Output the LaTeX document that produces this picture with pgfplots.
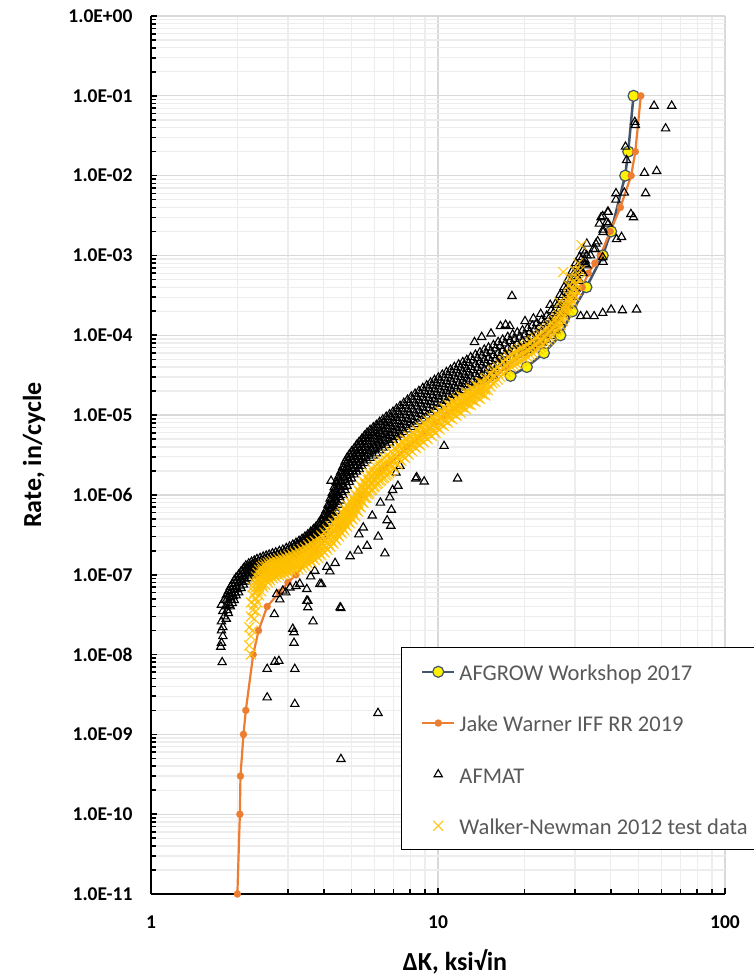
\documentclass[border=0pt]{standalone}
\usepackage{fontspec}
\setmainfont{Carlito}
\usepackage{pgfplots}
\pgfplotsset{compat=1.18}
\definecolor{afgline}{HTML}{44546A}
\definecolor{jake}{HTML}{ED7D31}
\definecolor{wn}{HTML}{FFC000}
\definecolor{legtext}{HTML}{595959}
\definecolor{majgrid}{HTML}{D9D9D9}
\definecolor{mingrid}{HTML}{EDEDED}
\newcommand{\lgd}[1]{\rule[-5pt]{0pt}{24pt}\makebox[310pt][l]{#1}}
\begin{document}
\begin{tikzpicture}
\begin{axis}[
  at={(0pt,0pt)}, anchor=south west,
  width=574pt, height=878pt, scale only axis,
  xmode=log, ymode=log, xmin=1, xmax=100, ymin=1e-11, ymax=1,
  axis x line*=bottom, axis y line*=left,
  axis line style={line width=2.2pt, black},
  xtick={1,10,100}, xticklabels={1,10,100},
  minor xtick={2,3,4,5,6,7,8,9,20,30,40,50,60,70,80,90},
  ytick={1e-11,1e-10,1e-9,1e-8,1e-7,1e-6,1e-5,1e-4,1e-3,1e-2,1e-1,1},
  yticklabels={1.0E-11,1.0E-10,1.0E-09,1.0E-08,1.0E-07,1.0E-06,1.0E-05,1.0E-04,1.0E-03,1.0E-02,1.0E-01,1.0E+00},
  minor ytick={2e-11,3e-11,4e-11,5e-11,6e-11,7e-11,8e-11,9e-11,
    2e-10,3e-10,4e-10,5e-10,6e-10,7e-10,8e-10,9e-10,
    2e-9,3e-9,4e-9,5e-9,6e-9,7e-9,8e-9,9e-9,
    2e-8,3e-8,4e-8,5e-8,6e-8,7e-8,8e-8,9e-8,
    2e-7,3e-7,4e-7,5e-7,6e-7,7e-7,8e-7,9e-7,
    2e-6,3e-6,4e-6,5e-6,6e-6,7e-6,8e-6,9e-6,
    2e-5,3e-5,4e-5,5e-5,6e-5,7e-5,8e-5,9e-5,
    2e-4,3e-4,4e-4,5e-4,6e-4,7e-4,8e-4,9e-4,
    2e-3,3e-3,4e-3,5e-3,6e-3,7e-3,8e-3,9e-3,
    2e-2,3e-2,4e-2,5e-2,6e-2,7e-2,8e-2,9e-2,
    0.2,0.3,0.4,0.5,0.6,0.7,0.8,0.9},
  grid=both,
  major grid style={draw=majgrid, line width=1.3pt},
  minor grid style={draw=mingrid, line width=1.3pt},
  tick align=inside,
  major tick length=6pt, minor tick length=5pt,
  tick style={line width=1.6pt, black},
  tick label style={font=\fontsize{19.5}{23}\selectfont\bfseries},
  yticklabel style={xshift=-15pt},
  xticklabel style={yshift=-18pt},
  xlabel={ΔK, ksi√in},
  ylabel={Rate, in/cycle},
  label style={font=\fontsize{26}{30}\selectfont\bfseries},
  xlabel style={at={(axis description cs:0.5296,-0.077)}, anchor=center},
  ylabel style={at={(axis description cs:-0.2038,0.5)}, anchor=center},
  legend image code/.code={\draw[mark repeat=2,mark phase=2,#1] plot coordinates {(0pt,0pt) (16pt,0pt) (32pt,0pt)};},
  legend cell align=left,
  legend style={at={(axis description cs:0.4355,0.2813)}, anchor=north west,
    draw=black, line width=1pt, fill=white,
    font=\fontsize{22.5}{27}\selectfont, text=legtext,
    inner xsep=19.5pt, inner ysep=14pt, row sep=30.8pt, column sep=4pt,
    nodes={inner sep=0pt}},
]
% AFGROW Workshop 2017
\addplot[color=afgline, line width=2.5pt, mark=*, mark size=5.5pt,
  mark options={fill=yellow, draw=afgline, line width=1.2pt}] coordinates {
(17.9,3.1e-5)(20.4,4.0e-5)(23.4,6.0e-5)(26.7,1.0e-4)
(29.4,2.0e-4)(32.9,4.0e-4)(37.5,1.0e-3)(40.1,2.0e-3)(44.9,1.0e-2)(46.0,2.0e-2)(48.0,1.0e-1)};
\addlegendentry{\lgd{AFGROW Workshop 2017}}
% Jake Warner IFF RR 2019
\addplot[color=jake, line width=2.2pt, mark=*, mark size=3.6pt,
  mark options={fill=jake, draw=jake, line width=0.1pt}] coordinates {
(2.0,1e-11)(2.04,1e-10)(2.05,3e-10)(2.10,1e-9)(2.14,2e-9)(2.27,1e-8)(2.37,2e-8)(2.54,4e-8)
(2.8,6e-8)(3.0,8e-8)(3.2,1e-7)(3.72,2e-7)(4.52,4e-7)(4.93,6e-7)(5.22,8e-7)(5.42,1e-6)(6.34,2e-6)
(7.8,4e-6)(8.95,6e-6)(9.8,8e-6)(10.6,1e-5)(13.9,2e-5)(17.3,4e-5)(20.0,6e-5)(22.3,8e-5)
(23.7,1e-4)(27.7,2e-4)(31.8,4e-4)(33.4,6e-4)(35.2,8e-4)(36.8,1e-3)(39.8,2e-3)(43.2,4e-3)
(47.1,1e-2)(48.7,2e-2)(50.9,1e-1)};
\addlegendentry{\lgd{Jake Warner IFF RR 2019}}
% AFMAT
\addplot[only marks, mark=triangle, mark size=4.8pt, mark options={draw=black, line width=1.1pt}] coordinates {
(1.76,4.2e-8)(1.76,2.6e-8)(1.76,2.0e-8)(1.76,1.4e-8)
(1.78,3.5e-8)(1.78,2.2e-8)(1.78,1.7e-8)
(1.80,4.8e-8)(1.80,3.0e-8)
(1.83,5.5e-8)(1.83,4.0e-8)(1.83,2.8e-8)
(1.86,6.2e-8)(1.86,4.5e-8)(1.86,3.3e-8)
(1.89,7.0e-8)(1.89,5.2e-8)(1.89,4.0e-8)
(1.92,7.6e-8)(1.92,5.8e-8)(1.92,4.4e-8)
(1.95,8.5e-8)(1.95,6.5e-8)(1.95,4.8e-8)
(1.98,9.2e-8)(1.98,7.0e-8)(1.98,5.5e-8)
(2.02,1.0e-7)(2.02,8.0e-8)(2.02,6.0e-8)
(2.06,1.1e-7)(2.06,8.5e-8)(2.06,6.8e-8)
(2.10,1.2e-7)(2.10,9.5e-8)(2.10,7.5e-8)
(2.14,1.3e-7)(2.14,1.05e-7)(2.14,8.2e-8)
(2.19,1.38e-7)(2.19,1.12e-7)(2.19,9.0e-8)
(2.24,1.45e-7)(2.24,1.2e-7)(2.24,9.8e-8)
(2.29,1.5e-7)(2.29,1.25e-7)(2.29,1.03e-7)
(2.34,1.57e-7)(2.34,1.32e-7)(2.34,1.08e-7)
(2.40,1.62e-7)(2.40,1.38e-7)(2.40,1.14e-7)
(2.46,1.68e-7)(2.46,1.42e-7)(2.46,1.2e-7)
(2.52,1.73e-7)(2.52,1.48e-7)(2.52,1.24e-7)
(2.58,1.78e-7)(2.58,1.52e-7)(2.58,1.3e-7)
(2.65,1.85e-7)(2.65,1.57e-7)(2.65,1.35e-7)
(2.72,1.9e-7)(2.72,1.62e-7)(2.72,1.4e-7)
(2.80,1.98e-7)(2.80,1.68e-7)(2.80,1.45e-7)
(2.88,2.05e-7)(2.88,1.75e-7)(2.88,1.52e-7)
(2.96,2.15e-7)(2.96,1.82e-7)(2.96,1.6e-7)
(3.04,2.25e-7)(3.04,1.9e-7)(3.04,1.68e-7)
(3.12,2.38e-7)(3.12,2.0e-7)(3.12,1.78e-7)
(3.20,2.5e-7)(3.20,2.1e-7)(3.20,1.88e-7)
(3.28,2.65e-7)(3.28,2.25e-7)(3.28,2.0e-7)
(3.36,2.8e-7)(3.36,2.4e-7)(3.36,2.1e-7)
(3.44,3.0e-7)(3.44,2.55e-7)(3.44,2.25e-7)
(3.52,3.2e-7)(3.52,2.7e-7)(3.52,2.35e-7)
(3.60,3.45e-7)(3.60,2.9e-7)(3.60,2.5e-7)
(3.68,3.7e-7)(3.68,3.1e-7)(3.68,2.65e-7)
(3.76,4.0e-7)(3.76,3.35e-7)(3.76,2.8e-7)
(3.84,4.4e-7)(3.84,3.6e-7)(3.84,3.0e-7)
(3.92,4.9e-7)(3.92,4.0e-7)(3.92,3.2e-7)
(4.00,5.6e-7)(4.00,4.5e-7)(4.00,3.6e-7)
(4.07,6.4e-7)(4.07,5.1e-7)(4.07,4.0e-7)
(4.14,7.5e-7)(4.14,5.8e-7)(4.14,4.5e-7)
(4.21,9.0e-7)(4.21,6.8e-7)(4.21,5.2e-7)
(4.28,1.05e-6)(4.28,8.0e-7)(4.28,6.0e-7)
(4.35,1.25e-6)(4.35,9.5e-7)(4.35,7.2e-7)(4.35,5.5e-7)
(4.42,1.45e-6)(4.42,1.1e-6)(4.42,8.5e-7)(4.42,6.3e-7)
(4.50,1.7e-6)(4.50,1.3e-6)(4.50,1.0e-6)(4.50,7.5e-7)
(4.58,1.95e-6)(4.58,1.5e-6)(4.58,1.15e-6)(4.58,8.5e-7)
(4.66,2.25e-6)(4.66,1.75e-6)(4.66,1.35e-6)(4.66,1.0e-6)
(4.74,2.6e-6)(4.74,2.0e-6)(4.74,1.55e-6)(4.74,1.15e-6)
(4.82,2.9e-6)(4.82,2.25e-6)(4.82,1.75e-6)(4.82,1.3e-6)
(4.91,3.2e-6)(4.91,2.5e-6)(4.91,1.95e-6)(4.91,1.45e-6)
(5.00,3.5e-6)(5.00,2.75e-6)(5.00,2.15e-6)(5.00,1.6e-6)
(5.10,3.8e-6)(5.10,3.0e-6)(5.10,2.35e-6)(5.10,1.8e-6)
(5.20,4.2e-6)(5.20,3.3e-6)(5.20,2.6e-6)(5.20,1.95e-6)
(5.31,4.6e-6)(5.31,3.6e-6)(5.31,2.8e-6)(5.31,2.1e-6)
(5.42,5.0e-6)(5.42,3.9e-6)(5.42,3.0e-6)(5.42,2.3e-6)
(5.54,5.5e-6)(5.54,4.3e-6)(5.54,3.3e-6)(5.54,2.5e-6)
(5.66,6.0e-6)(5.66,4.7e-6)(5.66,3.6e-6)(5.66,2.7e-6)
(5.80,6.5e-6)(5.80,5.1e-6)(5.80,3.9e-6)(5.80,2.9e-6)
(5.95,7.0e-6)(5.95,5.5e-6)(5.95,4.2e-6)(5.95,3.1e-6)
(6.10,7.5e-6)(6.10,5.9e-6)(6.10,4.5e-6)(6.10,3.3e-6)
(6.26,8.2e-6)(6.26,6.3e-6)(6.26,4.8e-6)(6.26,3.6e-6)
(6.42,8.8e-6)(6.42,6.8e-6)(6.42,5.2e-6)(6.42,3.9e-6)
(6.60,9.5e-6)(6.60,7.3e-6)(6.60,5.6e-6)(6.60,4.2e-6)
(6.78,1.02e-5)(6.78,7.9e-6)(6.78,6.0e-6)(6.78,4.5e-6)
(6.97,1.1e-5)(6.97,8.5e-6)(6.97,6.5e-6)(6.97,4.9e-6)
(7.17,1.2e-5)(7.17,9.2e-6)(7.17,7.0e-6)(7.17,5.3e-6)
(7.38,1.3e-5)(7.38,1.0e-5)(7.38,7.6e-6)(7.38,5.7e-6)
(7.60,1.42e-5)(7.60,1.09e-5)(7.60,8.2e-6)(7.60,6.1e-6)
(7.83,1.55e-5)(7.83,1.18e-5)(7.83,8.9e-6)(7.83,6.6e-6)
(8.07,1.7e-5)(8.07,1.28e-5)(8.07,9.6e-6)(8.07,7.1e-6)
(8.32,1.85e-5)(8.32,1.4e-5)(8.32,1.05e-5)(8.32,7.7e-6)
(8.58,2.0e-5)(8.58,1.52e-5)(8.58,1.14e-5)(8.58,8.3e-6)
(8.85,2.18e-5)(8.85,1.65e-5)(8.85,1.24e-5)(8.85,9.0e-6)
(9.13,2.35e-5)(9.13,1.8e-5)(9.13,1.35e-5)(9.13,9.8e-6)
(9.42,2.55e-5)(9.42,1.95e-5)(9.42,1.46e-5)(9.42,1.07e-5)
(9.72,2.75e-5)(9.72,2.1e-5)(9.72,1.58e-5)(9.72,1.16e-5)
(10.03,2.95e-5)(10.03,2.28e-5)(10.03,1.72e-5)(10.03,1.27e-5)
(10.35,3.2e-5)(10.35,2.45e-5)(10.35,1.86e-5)(10.35,1.38e-5)
(10.7,3.45e-5)(10.7,2.65e-5)(10.7,2.0e-5)(10.7,1.5e-5)
(11.05,3.7e-5)(11.05,2.85e-5)(11.05,2.15e-5)(11.05,1.65e-5)
(11.4,4.0e-5)(11.4,3.05e-5)(11.4,2.3e-5)(11.4,1.78e-5)
(11.8,4.3e-5)(11.8,3.3e-5)(11.8,2.5e-5)(11.8,1.92e-5)
(12.2,4.6e-5)(12.2,3.5e-5)(12.2,2.65e-5)(12.2,2.05e-5)
(12.6,4.9e-5)(12.6,3.75e-5)(12.6,2.85e-5)(12.6,2.2e-5)
(13.0,5.3e-5)(13.0,4.0e-5)(13.0,3.05e-5)(13.0,2.35e-5)
(13.5,5.7e-5)(13.5,4.3e-5)(13.5,3.25e-5)(13.5,2.5e-5)
(14.0,6.1e-5)(14.0,4.6e-5)(14.0,3.5e-5)(14.0,2.65e-5)
(14.5,6.6e-5)(14.5,4.9e-5)(14.5,3.7e-5)(14.5,2.8e-5)
(15.0,7.0e-5)(15.0,5.2e-5)(15.0,3.9e-5)(15.0,2.95e-5)
(15.6,7.5e-5)(15.6,5.6e-5)(15.6,4.2e-5)(15.6,3.1e-5)
(16.2,8.2e-5)(16.2,6.0e-5)(16.2,4.4e-5)
(16.8,8.8e-5)(16.8,6.4e-5)(16.8,4.7e-5)
(17.5,9.5e-5)(17.5,6.9e-5)(17.5,5.0e-5)
(18.2,1.02e-4)(18.2,7.4e-5)(18.2,5.3e-5)
(18.9,1.08e-4)(18.9,7.9e-5)(18.9,5.7e-5)
(19.7,1.15e-4)(19.7,8.4e-5)(19.7,6.1e-5)
(20.5,1.22e-4)(20.5,9.0e-5)(20.5,6.5e-5)
(21.3,1.32e-4)(21.3,9.6e-5)(21.3,7.0e-5)
(22.1,1.42e-4)(22.1,1.03e-4)(22.1,7.5e-5)
(23.0,1.55e-4)(23.0,1.12e-4)(23.0,8.1e-5)
(23.9,1.75e-4)(23.9,1.25e-4)(23.9,8.8e-5)
(24.8,2.05e-4)(24.8,1.42e-4)(24.8,9.8e-5)
(25.7,2.5e-4)(25.7,1.7e-4)(25.7,1.15e-4)
(26.6,3.2e-4)(26.6,2.15e-4)(26.6,1.45e-4)
(27.5,4.0e-4)(27.5,2.7e-4)(27.5,1.85e-4)
(28.4,5.0e-4)(28.4,3.4e-4)(28.4,2.35e-4)
(29.3,6.3e-4)(29.3,4.3e-4)(29.3,3.0e-4)
(30.2,8.0e-4)(30.2,5.5e-4)(30.2,3.8e-4)
(31.1,9.5e-4)(31.1,6.8e-4)(31.1,4.8e-4)
(32.0,1.15e-3)(32.0,8.2e-4)(32.0,6.0e-4)
(33.0,1.4e-3)(33.0,1.0e-3)(33.0,7.5e-4)
(1.845,5.0e-8)(1.845,3.6e-8)(1.875,5.7e-8)(1.875,4.2e-8)(1.905,6.4e-8)(1.905,4.85e-8)
(1.935,7.1e-8)(1.935,5.4e-8)(1.965,7.8e-8)(1.965,5.95e-8)(2.00,8.5e-8)(2.00,6.6e-8)
(2.04,9.4e-8)(2.04,7.3e-8)(2.08,1.02e-7)(2.08,8.1e-8)(2.12,1.12e-7)(2.12,8.9e-8)
(2.165,1.21e-7)(2.165,9.7e-8)(2.215,1.28e-7)(2.215,1.05e-7)(2.265,1.35e-7)(2.265,1.11e-7)
(2.315,1.41e-7)(2.315,1.17e-7)(2.37,1.47e-7)(2.37,1.23e-7)(2.43,1.52e-7)(2.43,1.28e-7)
(2.49,1.58e-7)(2.49,1.33e-7)(2.55,1.63e-7)(2.55,1.38e-7)(2.615,1.68e-7)(2.615,1.43e-7)
(2.685,1.74e-7)(2.685,1.48e-7)(2.76,1.8e-7)(2.76,1.54e-7)(2.84,1.87e-7)(2.84,1.6e-7)
(2.92,1.94e-7)(2.92,1.67e-7)(3.00,2.03e-7)(3.00,1.75e-7)(3.08,2.13e-7)(3.08,1.84e-7)
(3.16,2.25e-7)(3.16,1.94e-7)(3.24,2.37e-7)(3.24,2.06e-7)(3.32,2.52e-7)(3.32,2.19e-7)
(3.40,2.68e-7)(3.40,2.32e-7)(3.48,2.85e-7)(3.48,2.46e-7)(3.56,3.05e-7)(3.56,2.6e-7)
(3.64,3.28e-7)(3.64,2.78e-7)(3.72,3.5e-7)(3.72,2.97e-7)(3.80,3.8e-7)(3.80,3.18e-7)
(3.88,4.2e-7)(3.88,3.45e-7)(3.96,4.75e-7)(3.96,3.8e-7)(4.035,5.4e-7)(4.035,4.3e-7)
(4.105,6.2e-7)(4.105,4.85e-7)(4.175,7.3e-7)(4.175,5.6e-7)(4.245,8.6e-7)(4.245,6.5e-7)
(4.315,1.01e-6)(4.315,7.7e-7)(4.315,6.0e-7)(4.385,1.19e-6)(4.385,9.0e-7)(4.385,6.9e-7)
(4.46,1.39e-6)(4.46,1.06e-6)(4.46,8.1e-7)(4.54,1.61e-6)(4.54,1.24e-6)(4.54,9.4e-7)
(4.62,1.86e-6)(4.62,1.44e-6)(4.62,1.09e-6)(4.70,2.15e-6)(4.70,1.66e-6)(4.70,1.26e-6)
(4.78,2.44e-6)(4.78,1.89e-6)(4.78,1.44e-6)(4.865,2.71e-6)(4.865,2.11e-6)(4.865,1.61e-6)
(4.955,2.99e-6)(4.955,2.34e-6)(4.955,1.79e-6)(5.05,3.26e-6)(5.05,2.56e-6)(5.05,1.98e-6)
(5.15,3.58e-6)(5.15,2.81e-6)(5.15,2.18e-6)(5.255,3.93e-6)(5.255,3.08e-6)(5.255,2.36e-6)
(5.365,4.28e-6)(5.365,3.33e-6)(5.365,2.55e-6)(5.48,4.68e-6)(5.48,3.63e-6)(5.48,2.78e-6)
(5.60,5.13e-6)(5.60,3.98e-6)(5.60,3.03e-6)(5.73,5.58e-6)(5.73,4.33e-6)(5.73,3.28e-6)
(5.875,6.03e-6)(5.875,4.68e-6)(5.875,3.53e-6)(6.025,6.48e-6)(6.025,5.03e-6)(6.025,3.78e-6)
(6.18,6.98e-6)(6.18,5.38e-6)(6.18,4.05e-6)(6.34,7.53e-6)(6.34,5.78e-6)(6.34,4.38e-6)
(6.51,8.1e-6)(6.51,6.23e-6)(6.51,4.73e-6)(6.69,8.73e-6)(6.69,6.7e-6)(6.69,5.08e-6)
(6.875,9.4e-6)(6.875,7.23e-6)(6.875,5.48e-6)(7.07,1.02e-5)(7.07,7.8e-6)(7.07,5.93e-6)
(7.275,1.1e-5)(7.275,8.45e-6)(7.275,6.4e-6)(7.49,1.2e-5)(7.49,9.18e-6)(7.49,6.9e-6)
(7.715,1.31e-5)(7.715,9.95e-6)(7.715,7.45e-6)(7.95,1.43e-5)(7.95,1.08e-5)(7.95,8.05e-6)
(8.195,1.56e-5)(8.195,1.17e-5)(8.195,8.73e-6)(8.45,1.69e-5)(8.45,1.28e-5)(8.45,9.48e-6)
(8.715,1.84e-5)(8.715,1.39e-5)(8.715,1.03e-5)(8.99,1.99e-5)(8.99,1.51e-5)(8.99,1.12e-5)
(9.275,2.16e-5)(9.275,1.64e-5)(9.275,1.22e-5)(9.57,2.34e-5)(9.57,1.77e-5)(9.57,1.32e-5)
(9.875,2.52e-5)(9.875,1.92e-5)(9.875,1.43e-5)(10.19,2.72e-5)(10.19,2.08e-5)(10.19,1.56e-5)
(10.525,2.94e-5)(10.525,2.24e-5)(10.525,1.69e-5)(10.875,3.16e-5)(10.875,2.41e-5)(10.875,1.83e-5)
(11.225,3.4e-5)(11.225,2.59e-5)(11.225,1.97e-5)(11.6,3.66e-5)(11.6,2.79e-5)(11.6,2.13e-5)
(12.0,3.93e-5)(12.0,2.99e-5)(12.0,2.28e-5)(12.4,4.19e-5)(12.4,3.19e-5)(12.4,2.44e-5)
(12.8,4.49e-5)(12.8,3.41e-5)(12.8,2.61e-5)(13.25,4.83e-5)(13.25,3.65e-5)(13.25,2.79e-5)
(13.75,5.18e-5)(13.75,3.91e-5)(13.75,2.98e-5)(14.25,5.55e-5)(14.25,4.18e-5)(14.25,3.16e-5)
(14.75,5.93e-5)(14.75,4.43e-5)(14.75,3.34e-5)(15.3,6.33e-5)(15.3,4.73e-5)(15.3,3.54e-5)
(15.9,6.83e-5)(15.9,5.05e-5)(15.9,3.75e-5)(16.5,7.35e-5)(16.5,5.38e-5)(16.5,3.98e-5)
(17.15,7.9e-5)(17.15,5.75e-5)(17.85,8.5e-5)(17.85,6.2e-5)(18.55,9.0e-5)(18.55,6.6e-5)
(19.3,9.6e-5)(19.3,7.0e-5)(20.1,1.02e-4)(20.1,7.5e-5)(20.9,1.1e-4)(20.9,8.0e-5)
(21.7,1.18e-4)(21.7,8.6e-5)(22.55,1.27e-4)(22.55,9.3e-5)(23.45,1.42e-4)(23.45,1.02e-4)
(24.35,1.62e-4)(24.35,1.13e-4)(25.25,1.9e-4)(25.25,1.3e-4)(26.15,2.4e-4)(26.15,1.6e-4)
(27.05,3.0e-4)(27.05,2.0e-4)(27.95,3.75e-4)(27.95,2.55e-4)(28.85,4.7e-4)(28.85,3.2e-4)
(29.75,5.9e-4)(29.75,4.1e-4)(30.65,7.3e-4)(30.65,5.2e-4)(31.55,8.9e-4)(31.55,6.4e-4)
(32.5,1.08e-3)(32.5,7.8e-4)
(1.77,8.0e-9)(1.75,1.25e-8)
(2.54,6.6e-9)(2.70,8.1e-9)(2.79,8.3e-9)(2.54,2.9e-9)(3.17,6.6e-9)(3.17,2.4e-9)(4.59,4.9e-10)(6.18,1.85e-9)
(2.69,3.2e-8)(3.15,1.9e-8)(3.15,1.4e-8)(3.67,2.6e-8)(3.52,4.7e-8)(3.52,3.9e-8)(3.88,7.7e-8)(4.59,3.8e-8)(3.12,2.1e-8)(4.56,3.9e-8)
(2.74,5.7e-8)(2.88,6.3e-8)(3.05,6.9e-8)(3.30,7.7e-8)(3.49,6.6e-8)(3.72,1.12e-7)(3.93,7.6e-8)(4.38,1.4e-7)(2.81,4.9e-8)(3.49,4.7e-8)
(2.95,6.0e-8)(3.20,7.2e-8)(3.60,9.5e-8)(4.10,1.25e-7)(4.20,1.1e-7)
(4.94,1.7e-7)(5.27,2.0e-7)(5.66,2.3e-7)(6.53,1.85e-7)(6.19,3.0e-7)(5.49,3.9e-7)(6.85,4.1e-7)(6.65,4.8e-7)(6.88,6.5e-7)
(6.79,9.3e-7)(6.95,1.15e-6)(7.25,1.3e-6)(7.14,1.9e-6)(7.37,2.3e-6)(8.37,1.6e-6)(8.95,1.47e-6)(8.43,1.66e-6)(10.5,4.1e-6)
(11.7,1.6e-6)(4.24,1.5e-6)(5.9,5.5e-7)(6.3,8.0e-7)(5.3,3.2e-7)
(18.1,3.1e-4)(16.5,1.3e-4)(17.2,1.35e-4)(17.8,1.3e-4)(15.3,1.05e-4)(14.2,9.5e-5)(13.4,8.2e-5)(20.1,1.5e-4)(21.5,1.62e-4)(22.8,1.85e-4)(24.6,2.4e-4)
(31.4,1.73e-4)(33.0,1.75e-4)(35.0,1.73e-4)(37.5,1.9e-4)(40.1,2.1e-4)(43.9,2.05e-4)(49.2,2.1e-4)
(34.8,1.2e-3)(35.3,1.2e-3)(34.0,1.0e-3)(32.6,8.6e-4)(37.5,9.5e-4)(37.6,8.3e-4)(37.6,1.96e-3)(37.6,2.1e-3)(36.5,2.5e-3)
(38.7,2.6e-3)(39.2,2.5e-3)(37.0,3.0e-3)(37.5,3.1e-3)(39.0,3.5e-3)(39.2,3.5e-3)(41.9,1.6e-3)(43.6,1.7e-3)(41.7,5.0e-3)
(41.7,6.0e-3)(44.6,6.1e-3)(47.0,3.3e-3)(48.0,3.0e-3)(52.9,6.0e-3)(52.4,1.08e-2)(57.8,1.14e-2)(45.4,1.56e-2)(45.0,2.3e-2)
(48.5,4.7e-2)(48.7,4.3e-2)(62.1,3.9e-2)(56.6,7.5e-2)(65.2,7.5e-2)(36.0,1.5e-3)(35.5,1.4e-3)
};
\addlegendentry{\lgd{AFMAT}}
% Walker-Newman 2012 test data
\addplot[only marks, mark=x, mark size=7pt, mark options={draw=wn, line width=1.2pt, draw opacity=0.85}] coordinates {
(2.20,1.3e-8)(2.20,2.2e-8)
(2.23,1.0e-8)(2.23,1.7e-8)(2.23,3.0e-8)(2.23,4.5e-8)
(2.26,2.0e-8)(2.26,3.6e-8)(2.26,5.5e-8)(2.26,7.0e-8)
(2.29,2.8e-8)(2.29,4.2e-8)(2.29,6.0e-8)(2.29,8.0e-8)
(2.32,3.5e-8)(2.32,5.0e-8)(2.32,7.0e-8)(2.32,9.5e-8)
(2.35,4.5e-8)(2.35,6.2e-8)(2.35,8.0e-8)(2.35,1.05e-7)
(2.38,5.5e-8)(2.38,7.2e-8)(2.38,9.0e-8)(2.38,1.15e-7)
(2.42,6.2e-8)(2.42,8.0e-8)(2.42,1.0e-7)(2.42,1.25e-7)
(2.46,7.0e-8)(2.46,8.8e-8)(2.46,1.08e-7)(2.46,1.3e-7)
(2.50,7.5e-8)(2.50,9.3e-8)(2.50,1.12e-7)(2.50,1.35e-7)
(2.55,8.0e-8)(2.55,9.8e-8)(2.55,1.17e-7)(2.55,1.4e-7)
(2.60,8.5e-8)(2.60,1.03e-7)(2.60,1.22e-7)(2.60,1.44e-7)
(2.66,9.0e-8)(2.66,1.07e-7)(2.66,1.26e-7)(2.66,1.48e-7)
(2.72,9.4e-8)(2.72,1.1e-7)(2.72,1.3e-7)(2.72,1.52e-7)
(2.79,9.8e-8)(2.79,1.14e-7)(2.79,1.34e-7)(2.79,1.57e-7)
(2.86,1.0e-7)(2.86,1.18e-7)(2.86,1.38e-7)(2.86,1.62e-7)
(2.93,1.03e-7)(2.93,1.22e-7)(2.93,1.43e-7)(2.93,1.68e-7)
(3.01,1.06e-7)(3.01,1.26e-7)(3.01,1.48e-7)(3.01,1.75e-7)
(3.09,1.1e-7)(3.09,1.3e-7)(3.09,1.54e-7)(3.09,1.82e-7)
(3.17,1.14e-7)(3.17,1.35e-7)(3.17,1.6e-7)(3.17,1.9e-7)
(3.26,1.18e-7)(3.26,1.4e-7)(3.26,1.67e-7)(3.26,2.0e-7)
(3.35,1.23e-7)(3.35,1.46e-7)(3.35,1.75e-7)(3.35,2.1e-7)
(3.44,1.29e-7)(3.44,1.54e-7)(3.44,1.85e-7)(3.44,2.2e-7)
(3.53,1.36e-7)(3.53,1.63e-7)(3.53,1.96e-7)(3.53,2.35e-7)
(3.62,1.44e-7)(3.62,1.73e-7)(3.62,2.08e-7)(3.62,2.5e-7)
(3.72,1.53e-7)(3.72,1.85e-7)(3.72,2.22e-7)(3.72,2.65e-7)
(3.82,1.63e-7)(3.82,1.98e-7)(3.82,2.38e-7)(3.82,2.85e-7)
(3.92,1.75e-7)(3.92,2.12e-7)(3.92,2.56e-7)(3.92,3.1e-7)
(4.02,1.9e-7)(4.02,2.3e-7)(4.02,2.8e-7)(4.02,3.4e-7)
(4.12,2.05e-7)(4.12,2.5e-7)(4.12,3.05e-7)(4.12,3.7e-7)
(4.22,2.25e-7)(4.22,2.75e-7)(4.22,3.35e-7)(4.22,4.1e-7)
(4.32,2.45e-7)(4.32,3.0e-7)(4.32,3.7e-7)(4.32,4.5e-7)
(4.42,2.7e-7)(4.42,3.3e-7)(4.42,4.05e-7)(4.42,5.0e-7)
(4.52,3.0e-7)(4.52,3.65e-7)(4.52,4.5e-7)(4.52,5.5e-7)
(4.62,3.3e-7)(4.62,4.0e-7)(4.62,5.0e-7)(4.62,6.1e-7)
(4.72,3.6e-7)(4.72,4.45e-7)(4.72,5.5e-7)(4.72,6.8e-7)
(4.82,4.0e-7)(4.82,4.9e-7)(4.82,6.1e-7)(4.82,7.5e-7)
(4.93,4.4e-7)(4.93,5.4e-7)(4.93,6.7e-7)(4.93,8.3e-7)
(5.04,4.9e-7)(5.04,6.0e-7)(5.04,7.4e-7)(5.04,9.2e-7)
(5.15,5.4e-7)(5.15,6.7e-7)(5.15,8.2e-7)(5.15,1.02e-6)
(5.26,6.2e-7)(5.26,7.6e-7)(5.26,9.4e-7)(5.26,1.16e-6)
(5.38,7.0e-7)(5.38,8.6e-7)(5.38,1.06e-6)(5.38,1.3e-6)
(5.50,8.0e-7)(5.50,9.8e-7)(5.50,1.2e-6)(5.50,1.48e-6)
(5.63,9.2e-7)(5.63,1.13e-6)(5.63,1.38e-6)(5.63,1.7e-6)
(5.76,1.05e-6)(5.76,1.28e-6)(5.76,1.56e-6)(5.76,1.9e-6)
(5.90,1.17e-6)(5.90,1.42e-6)(5.90,1.73e-6)(5.90,2.1e-6)
(6.04,1.28e-6)(6.04,1.56e-6)(6.04,1.9e-6)(6.04,2.3e-6)
(6.19,1.4e-6)(6.19,1.7e-6)(6.19,2.06e-6)(6.19,2.5e-6)
(6.34,1.52e-6)(6.34,1.84e-6)(6.34,2.23e-6)(6.34,2.7e-6)
(6.50,1.65e-6)(6.50,2.0e-6)(6.50,2.42e-6)(6.50,2.92e-6)
(6.67,1.8e-6)(6.67,2.18e-6)(6.67,2.64e-6)(6.67,3.18e-6)
(6.85,1.96e-6)(6.85,2.37e-6)(6.85,2.87e-6)(6.85,3.47e-6)
(7.04,2.17e-6)(7.04,2.62e-6)(7.04,3.17e-6)(7.04,3.83e-6)
(7.24,2.4e-6)(7.24,2.9e-6)(7.24,3.5e-6)(7.24,4.2e-6)
(7.45,2.65e-6)(7.45,3.2e-6)(7.45,3.85e-6)(7.45,4.6e-6)
(7.67,2.9e-6)(7.67,3.5e-6)(7.67,4.2e-6)(7.67,5.0e-6)
(7.90,3.2e-6)(7.90,3.85e-6)(7.90,4.6e-6)(7.90,5.5e-6)
(8.14,3.5e-6)(8.14,4.2e-6)(8.14,5.0e-6)(8.14,6.0e-6)
(8.39,3.85e-6)(8.39,4.6e-6)(8.39,5.5e-6)(8.39,6.6e-6)
(8.65,4.2e-6)(8.65,5.0e-6)(8.65,6.0e-6)(8.65,7.2e-6)
(8.92,4.6e-6)(8.92,5.5e-6)(8.92,6.6e-6)(8.92,7.9e-6)
(9.20,5.0e-6)(9.20,6.0e-6)(9.20,7.2e-6)(9.20,8.6e-6)
(9.50,5.5e-6)(9.50,6.6e-6)(9.50,7.9e-6)(9.50,9.4e-6)
(9.81,6.0e-6)(9.81,7.2e-6)(9.81,8.6e-6)(9.81,1.03e-5)
(10.13,6.6e-6)(10.13,7.9e-6)(10.13,9.4e-6)(10.13,1.12e-5)
(10.47,7.3e-6)(10.47,8.7e-6)(10.47,1.04e-5)(10.47,1.24e-5)
(10.82,8.1e-6)(10.82,9.6e-6)(10.82,1.15e-5)(10.82,1.37e-5)
(11.2,8.9e-6)(11.2,1.06e-5)(11.2,1.26e-5)(11.2,1.5e-5)
(11.6,9.8e-6)(11.6,1.16e-5)(11.6,1.37e-5)(11.6,1.62e-5)
(12.0,1.07e-5)(12.0,1.26e-5)(12.0,1.48e-5)(12.0,1.74e-5)
(12.5,1.19e-5)(12.5,1.4e-5)(12.5,1.64e-5)(12.5,1.93e-5)
(13.0,1.33e-5)(13.0,1.56e-5)(13.0,1.84e-5)(13.0,2.16e-5)
(13.5,1.46e-5)(13.5,1.72e-5)(13.5,2.02e-5)(13.5,2.37e-5)
(14.0,1.59e-5)(14.0,1.88e-5)(14.0,2.2e-5)(14.0,2.59e-5)
(14.6,1.76e-5)(14.6,2.07e-5)(14.6,2.43e-5)(14.6,2.86e-5)
(15.2,2.3e-5)(15.2,2.75e-5)(15.2,3.3e-5)
(15.8,2.6e-5)(15.8,3.1e-5)(15.8,3.7e-5)
(16.5,3.0e-5)(16.5,3.6e-5)(16.5,4.3e-5)
(17.2,3.5e-5)(17.2,4.2e-5)(17.2,5.0e-5)
(18.0,4.0e-5)(18.0,4.8e-5)(18.0,5.8e-5)
(18.8,4.4e-5)(18.8,5.3e-5)(18.8,6.4e-5)
(19.6,4.8e-5)(19.6,5.8e-5)(19.6,7.0e-5)
(20.5,5.3e-5)(20.5,6.4e-5)(20.5,7.7e-5)
(21.4,6.0e-5)(21.4,7.2e-5)(21.4,8.6e-5)
(22.3,6.8e-5)(22.3,8.1e-5)(22.3,9.7e-5)
(23.2,7.6e-5)(23.2,9.1e-5)(23.2,1.1e-4)
(24.1,8.7e-5)(24.1,1.04e-4)(24.1,1.25e-4)
(25.0,1.0e-4)(25.0,1.2e-4)(25.0,1.44e-4)
(25.9,1.16e-4)(25.9,1.39e-4)(25.9,1.67e-4)
(26.8,1.33e-4)(26.8,1.6e-4)(26.8,1.92e-4)
(27.7,1.69e-4)(27.7,2.03e-4)(27.7,2.44e-4)
(28.6,2.13e-4)(28.6,2.56e-4)(28.6,3.07e-4)
(29.5,2.65e-4)(29.5,3.2e-4)(29.5,3.85e-4)(29.5,4.6e-4)
(30.4,3.6e-4)(30.4,4.3e-4)(30.4,5.2e-4)
(31.3,5.0e-4)(31.3,6.5e-4)
(27.3,6.2e-4)(29.1,5.3e-4)(31.6,1.35e-3)(30.8,8.0e-4)(28.5,4.2e-4)(26.5,2.6e-4)(30.0,6.5e-4)
(15.5,2.5e-5)(15.5,3.0e-5)(15.5,3.6e-5)(16.15,2.8e-5)(16.15,3.35e-5)(16.15,4.0e-5)
(16.85,3.25e-5)(16.85,3.9e-5)(16.85,4.7e-5)(17.6,3.75e-5)(17.6,4.5e-5)(17.6,5.4e-5)
(18.4,4.2e-5)(18.4,5.05e-5)(18.4,6.1e-5)(19.2,4.6e-5)(19.2,5.55e-5)(19.2,6.7e-5)
(20.05,5.05e-5)(20.05,6.1e-5)(20.05,7.3e-5)(20.95,5.65e-5)(20.95,6.8e-5)(20.95,8.2e-5)
(21.85,6.4e-5)(21.85,7.65e-5)(21.85,9.2e-5)(22.75,7.2e-5)(22.75,8.6e-5)(22.75,1.03e-4)
(23.65,8.1e-5)(23.65,9.7e-5)(23.65,1.17e-4)(24.55,9.3e-5)(24.55,1.12e-4)(24.55,1.34e-4)
(25.45,1.08e-4)(25.45,1.3e-4)(25.45,1.55e-4)(26.35,1.24e-4)(26.35,1.49e-4)(26.35,1.79e-4)
(27.25,1.5e-4)(27.25,1.8e-4)(27.25,2.16e-4)(28.15,1.9e-4)(28.15,2.28e-4)(28.15,2.74e-4)
(29.05,2.4e-4)(29.05,2.88e-4)(29.05,3.45e-4)(29.95,3.1e-4)(29.95,3.7e-4)(29.95,4.4e-4)
(2.44,7.5e-8)(2.44,9.4e-8)(2.44,1.15e-7)(2.525,8.6e-8)(2.525,1.05e-7)(2.525,1.26e-7)
(2.575,9.1e-8)(2.575,1.1e-7)(2.575,1.31e-7)(2.63,9.6e-8)(2.63,1.15e-7)(2.63,1.35e-7)
(2.69,1.0e-7)(2.69,1.18e-7)(2.69,1.39e-7)(2.755,1.04e-7)(2.755,1.22e-7)(2.755,1.43e-7)
(2.825,1.07e-7)(2.825,1.26e-7)(2.825,1.48e-7)(2.895,1.1e-7)(2.895,1.3e-7)(2.895,1.53e-7)
(2.97,1.14e-7)(2.97,1.35e-7)(2.97,1.58e-7)(3.05,1.18e-7)(3.05,1.39e-7)(3.05,1.64e-7)
(3.13,1.22e-7)(3.13,1.45e-7)(3.13,1.71e-7)(3.215,1.27e-7)(3.215,1.5e-7)(3.215,1.79e-7)
(3.305,1.32e-7)(3.305,1.57e-7)(3.305,1.88e-7)(3.395,1.38e-7)(3.395,1.65e-7)(3.395,1.97e-7)
(3.485,1.45e-7)(3.485,1.74e-7)(3.485,2.09e-7)(3.575,1.54e-7)(3.575,1.85e-7)(3.575,2.22e-7)
(3.67,1.64e-7)(3.67,1.97e-7)(3.67,2.36e-7)(3.77,1.75e-7)(3.77,2.1e-7)(3.77,2.52e-7)
(3.87,1.87e-7)(3.87,2.26e-7)(3.87,2.72e-7)(3.97,2.0e-7)(3.97,2.45e-7)(3.97,2.95e-7)
(4.07,2.18e-7)(4.07,2.65e-7)(4.07,3.2e-7)(4.17,2.38e-7)(4.17,2.9e-7)(4.17,3.5e-7)
(4.27,2.6e-7)(4.27,3.2e-7)(4.27,3.9e-7)(4.37,2.85e-7)(4.37,3.5e-7)(4.37,4.3e-7)
(4.47,3.15e-7)(4.47,3.85e-7)(4.47,4.75e-7)(4.57,3.47e-7)(4.57,4.28e-7)(4.57,5.25e-7)
(4.67,3.8e-7)(4.67,4.7e-7)(4.67,5.8e-7)(4.77,4.2e-7)(4.77,5.2e-7)(4.77,6.45e-7)
(4.875,4.65e-7)(4.875,5.75e-7)(4.875,7.1e-7)(4.985,5.15e-7)(4.985,6.35e-7)(4.985,7.9e-7)
(5.095,5.75e-7)(5.095,7.05e-7)(5.095,8.7e-7)(5.205,6.4e-7)(5.205,7.85e-7)(5.205,9.7e-7)
(5.32,7.2e-7)(5.32,8.8e-7)(5.32,1.09e-6)(5.44,8.15e-7)(5.44,1.0e-6)(5.44,1.24e-6)
(5.565,9.1e-7)(5.565,1.12e-6)(5.565,1.37e-6)(5.695,1.02e-6)(5.695,1.25e-6)(5.695,1.53e-6)
(5.83,1.14e-6)(5.83,1.39e-6)(5.83,1.7e-6)(5.97,1.25e-6)(5.97,1.53e-6)(5.97,1.87e-6)
(6.115,1.36e-6)(6.115,1.65e-6)(6.115,2.0e-6)(6.265,1.49e-6)(6.265,1.81e-6)(6.265,2.2e-6)
(6.42,1.61e-6)(6.42,1.96e-6)(6.42,2.37e-6)(6.585,1.74e-6)(6.585,2.11e-6)(6.585,2.56e-6)
(6.76,1.89e-6)(6.76,2.3e-6)(6.76,2.8e-6)(6.945,2.28e-6)(6.945,2.76e-6)(6.945,3.33e-6)
(7.14,2.52e-6)(7.14,3.05e-6)(7.14,3.68e-6)(7.345,2.79e-6)(7.345,3.36e-6)(7.345,4.04e-6)
(7.56,3.06e-6)(7.56,3.69e-6)(7.56,4.41e-6)(7.785,3.36e-6)(7.785,4.04e-6)(7.785,4.83e-6)
(8.02,3.67e-6)(8.02,4.41e-6)(8.02,5.28e-6)(8.265,4.04e-6)(8.265,4.83e-6)(8.265,5.78e-6)
(8.52,4.41e-6)(8.52,5.28e-6)(8.52,6.33e-6)(8.785,4.83e-6)(8.785,5.78e-6)(8.785,6.93e-6)
(9.06,5.28e-6)(9.06,6.33e-6)(9.06,7.58e-6)(9.35,5.78e-6)(9.35,6.93e-6)(9.35,8.28e-6)
(9.655,6.33e-6)(9.655,7.58e-6)(9.655,9.05e-6)(9.97,6.93e-6)(9.97,8.28e-6)(9.97,9.88e-6)
(10.3,7.63e-6)(10.3,9.1e-6)(10.3,1.09e-5)(10.645,8.43e-6)(10.645,1.01e-5)(10.645,1.2e-5)
(11.01,9.3e-6)(11.01,1.11e-5)(11.01,1.32e-5)(11.4,1.02e-5)(11.4,1.21e-5)(11.4,1.44e-5)
(11.8,1.12e-5)(11.8,1.32e-5)(11.8,1.55e-5)(12.25,1.23e-5)(12.25,1.45e-5)(12.25,1.7e-5)
(12.75,1.37e-5)(12.75,1.61e-5)(12.75,1.89e-5)(13.25,1.52e-5)(13.25,1.79e-5)(13.25,2.1e-5)
(13.75,1.66e-5)(13.75,1.95e-5)(13.75,2.3e-5)(14.3,1.82e-5)(14.3,2.14e-5)(14.3,2.52e-5)
(14.9,2.05e-5)(14.9,2.45e-5)(14.9,2.9e-5)
};
\addlegendentry{\lgd{Walker-Newman 2012 test data}}
\end{axis}
\pgfresetboundingbox
\path[use as bounding box] (-151pt,-86pt) rectangle (602pt,894pt);
\end{tikzpicture}
\end{document}
